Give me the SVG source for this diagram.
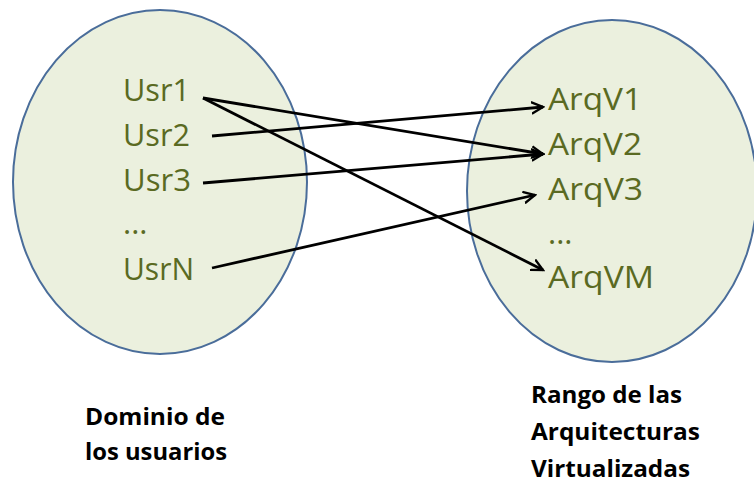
<svg xmlns="http://www.w3.org/2000/svg" width="754" height="483" viewBox="0 0 754 483">
<style>
.set{fill:#EBF0DE;stroke:#4A6D9A;stroke-width:2}
.item{font-family:"Open Sans","Liberation Sans",sans-serif;font-size:31px;fill:#5A6A22}
.cap{font-family:"Open Sans","Liberation Sans",sans-serif;font-size:24px;font-weight:bold;fill:#000}
.edge{stroke:#000;stroke-width:2.8;fill:none;marker-end:url(#arr)}
</style>
<defs>
<marker id="arr" markerWidth="14" markerHeight="14" refX="10" refY="5" orient="auto" markerUnits="userSpaceOnUse" viewBox="0 0 12 10">
<path d="M0,0 L10,5 L0,10" fill="none" stroke="#000" stroke-width="2"/>
</marker>
</defs>
<rect width="754" height="483" fill="#fff"/>
<g id="domain">
<ellipse class="set" cx="160" cy="182" rx="147" ry="172"/>
<text class="item" x="123" y="101" textLength="67" lengthAdjust="spacingAndGlyphs">Usr1</text>
<text class="item" x="123" y="146" textLength="67" lengthAdjust="spacingAndGlyphs">Usr2</text>
<text class="item" x="123" y="191" textLength="68" lengthAdjust="spacingAndGlyphs">Usr3</text>
<text class="item" x="123" y="234">...</text>
<text class="item" x="123" y="280" textLength="71" lengthAdjust="spacingAndGlyphs">UsrN</text>
</g>
<g id="range">
<ellipse class="set" cx="612" cy="191" rx="145" ry="171"/>
<text class="item" x="548" y="110" textLength="94" lengthAdjust="spacingAndGlyphs">ArqV1</text>
<text class="item" x="548" y="155" textLength="94" lengthAdjust="spacingAndGlyphs">ArqV2</text>
<text class="item" x="548" y="200" textLength="95" lengthAdjust="spacingAndGlyphs">ArqV3</text>
<text class="item" x="548" y="244">...</text>
<text class="item" x="548" y="288" textLength="106" lengthAdjust="spacingAndGlyphs">ArqVM</text>
</g>
<g id="connectors">
<line class="edge" x1="203" y1="98" x2="543" y2="154"/>
<line class="edge" x1="203" y1="98" x2="543" y2="270"/>
<line class="edge" x1="212" y1="136" x2="543" y2="107"/>
<line class="edge" x1="203" y1="183" x2="543" y2="154"/>
<line class="edge" x1="212" y1="268" x2="535" y2="195"/>
</g>
<g id="captions">
<text class="cap" x="85" y="425" textLength="140" lengthAdjust="spacingAndGlyphs">Dominio de</text>
<text class="cap" x="85" y="460" textLength="142" lengthAdjust="spacingAndGlyphs">los usuarios</text>
<text class="cap" x="531" y="403" textLength="151" lengthAdjust="spacingAndGlyphs">Rango de las</text>
<text class="cap" x="531" y="440" textLength="169" lengthAdjust="spacingAndGlyphs">Arquitecturas</text>
<text class="cap" x="531" y="477" textLength="159" lengthAdjust="spacingAndGlyphs">Virtualizadas</text>
</g>
</svg>
